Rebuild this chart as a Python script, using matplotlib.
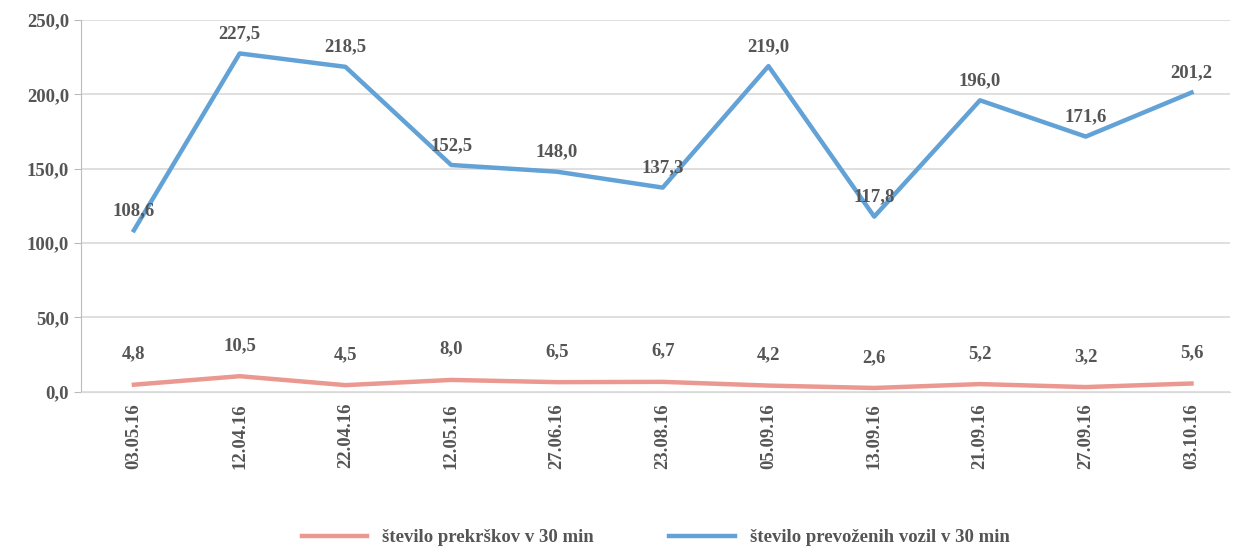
import numpy as np
import matplotlib.pyplot as plt

# podatki
datumi = ["03.05.16", "12.04.16", "22.04.16", "12.05.16", "27.06.16", "23.08.16",
          "05.09.16", "13.09.16", "21.09.16", "27.09.16", "03.10.16"]
prekrski = [4.8, 10.5, 4.5, 8.0, 6.5, 6.7, 4.2, 2.6, 5.2, 3.2, 5.6]
vozila = [108.6, 227.5, 218.5, 152.5, 148.0, 137.3, 219.0, 117.8, 196.0, 171.6, 201.2]

siva = "#555555"
plt.rcParams['font.family'] = ['Liberation Serif', 'DejaVu Serif']
plt.rcParams['font.weight'] = 'bold'

fig = plt.figure(figsize=(12.37, 5.55), dpi=100)
ax = fig.add_axes([0.0655, 0.294, 0.9285, 0.67])

x = np.arange(len(datumi))
ax.plot(x, prekrski, color="#eb9890", lw=3.2, label="število prekrškov v 30 min")
ax.plot(x, vozila, color="#62a2d6", lw=3.2, label="število prevoženih vozil v 30 min")

def fmt(v):
    return f"{v:.1f}".replace(".", ",")

for xi, v in zip(x, prekrski):
    ax.annotate(fmt(v), (xi, v), xytext=(0, 16), textcoords="offset points",
                ha="center", va="bottom", fontsize=13.5, color=siva, fontweight="bold")
for xi, v in zip(x, vozila):
    ax.annotate(fmt(v), (xi, v), xytext=(0, 8), textcoords="offset points",
                ha="center", va="bottom", fontsize=13.5, color=siva, fontweight="bold")

ax.set_ylim(0, 250)
ax.set_yticks(np.arange(0, 251, 50))
ax.set_yticklabels([fmt(t) for t in np.arange(0, 251, 50)], fontsize=13.5,
                   color=siva, fontweight="bold")
ax.set_xlim(-0.5, 10.36)
ax.set_xticks(x)
ax.set_xticklabels(datumi, rotation=90, fontsize=13.5, color=siva, fontweight="bold")
ax.tick_params(axis="x", length=0, pad=8)
ax.tick_params(axis="y", length=5, color="#bbbbbb")

ax.grid(axis="y", color="#d9d9d9", lw=1.2)
ax.set_axisbelow(True)
for s in ["top", "right"]:
    ax.spines[s].set_visible(False)
ax.spines["left"].set_color("#bbbbbb")
ax.spines["bottom"].set_color("#d9d9d9")

leg = fig.legend(loc="lower center", bbox_to_anchor=(0.53, -0.015), ncol=2, frameon=False,
                 fontsize=13.5, handlelength=3.5, columnspacing=4)
for t in leg.get_texts():
    t.set_color(siva)
    t.set_fontweight("bold")

fig.savefig("out.png", dpi=100)
